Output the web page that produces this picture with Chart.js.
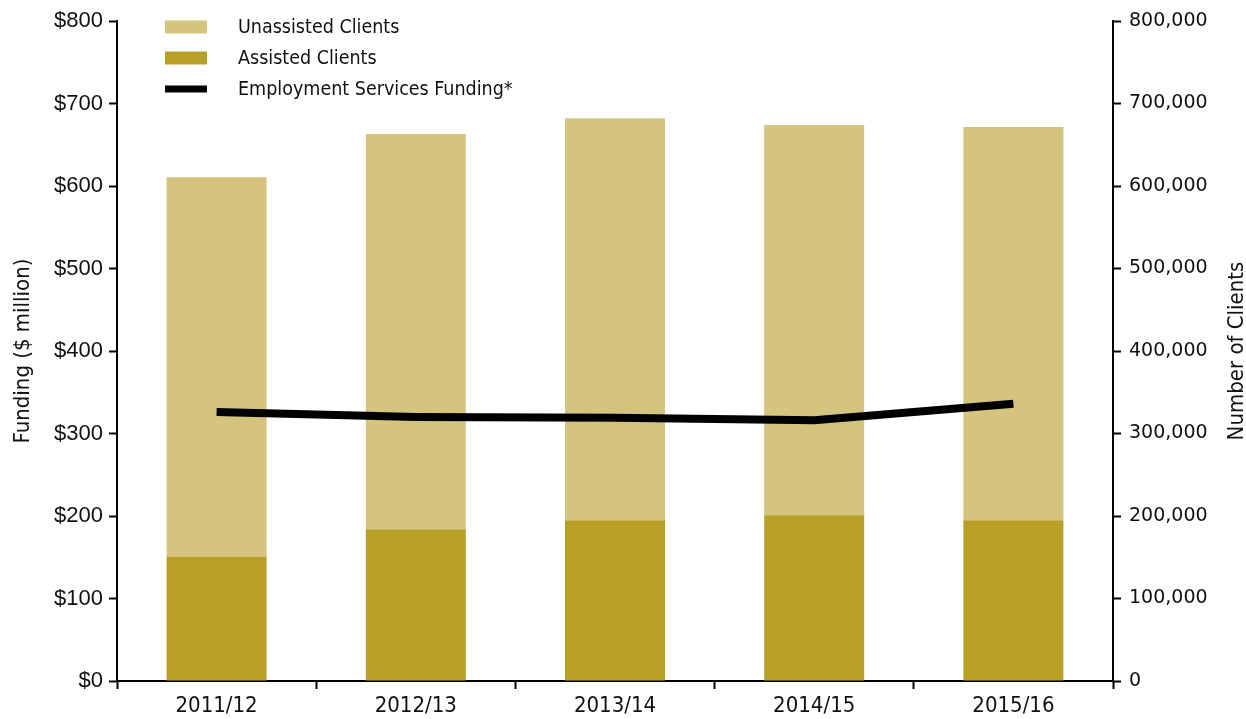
<!DOCTYPE html>
<html>
<head>
<meta charset="utf-8">
<script src="https://cdn.jsdelivr.net/npm/chart.js"></script>
<style>
  html, body { margin: 0; padding: 0; background: #fff; }
  #wrap { width: 1246px; height: 719px; }
</style>
</head>
<body>
<div id="wrap"><canvas id="chart" width="1246" height="719"></canvas></div>
<script>
// Data
const years = ['2011/12', '2012/13', '2013/14', '2014/15', '2015/16'];
const assistedClients = [151000, 184000, 195000, 201000, 195000];
const unassistedClients = [459500, 479000, 487000, 473000, 476500];
const fundingMillions = [326, 320, 319, 316, 336];

const lightGold = '#D4C47D';
const darkGold = '#B79F28';
const narrowFont = '"Liberation Sans Narrow", "DejaVu Sans Condensed", sans-serif';

// Legend drawn inside the plot, top-left, stacked vertically
const insideLegend = {
  id: 'insideLegend',
  afterDraw(chart) {
    const ctx = chart.ctx;
    const ds = chart.data.datasets;
    const order = [1, 0, 2]; // Unassisted, Assisted, Funding
    ctx.save();
    ctx.font = '19.5px ' + narrowFont;
    ctx.textBaseline = 'middle';
    order.forEach((idx, row) => {
      const y = 27 + row * 31;
      const d = ds[idx];
      if (d.type === 'line') {
        ctx.fillStyle = d.borderColor;
        ctx.fillRect(165, y - 3.5, 42, 7);
      } else {
        ctx.fillStyle = d.backgroundColor;
        ctx.fillRect(165, y - 6.5, 42, 13);
      }
      ctx.fillStyle = '#111';
      ctx.fillText(d.label, 238, y + 1);
    });
    ctx.restore();
  }
};

// Right axis title reads bottom-to-top in the reference
const rightTitle = {
  id: 'rightTitle',
  afterDraw(chart) {
    const ctx = chart.ctx;
    const area = chart.chartArea;
    ctx.save();
    ctx.translate(1237, (area.top + area.bottom) / 2);
    ctx.rotate(-Math.PI / 2);
    ctx.font = '22px ' + narrowFont;
    ctx.fillStyle = '#111';
    ctx.textAlign = 'center';
    ctx.textBaseline = 'middle';
    ctx.fillText('Number of Clients', 0, 0);
    ctx.restore();
  }
};

new Chart(document.getElementById('chart'), {
  data: {
    labels: years,
    datasets: [
      {
        type: 'bar',
        label: 'Assisted Clients',
        data: assistedClients,
        backgroundColor: darkGold,
        yAxisID: 'y1',
        stack: 'clients',
        order: 2
      },
      {
        type: 'bar',
        label: 'Unassisted Clients',
        data: unassistedClients,
        backgroundColor: lightGold,
        yAxisID: 'y1',
        stack: 'clients',
        order: 2
      },
      {
        type: 'line',
        label: 'Employment Services Funding*',
        data: fundingMillions,
        borderColor: '#000',
        borderWidth: 8,
        pointRadius: 0,
        tension: 0,
        yAxisID: 'y',
        order: 1
      }
    ]
  },
  options: {
    responsive: false,
    animation: false,
    layout: { padding: { top: 21, left: 0, right: 0, bottom: 0 } },
    datasets: {
      bar: { categoryPercentage: 0.502, barPercentage: 1 }
    },
    plugins: {
      legend: { display: false },
      tooltip: { enabled: false }
    },
    scales: {
      x: {
        stacked: true,
        offset: true,
        grid: {
          offset: true,
          drawOnChartArea: false,
          drawTicks: true,
          tickLength: 8,
          tickWidth: 2,
          tickColor: '#000'
        },
        border: { display: true, color: '#000', width: 2 },
        ticks: {
          color: '#111',
          padding: 4,
          font: { family: narrowFont, size: 22 }
        },
        afterFit(scale) { scale.height = 38; }
      },
      y: {
        position: 'left',
        min: 0,
        max: 800,
        ticks: {
          stepSize: 100,
          color: '#111',
          padding: 6,
          font: { family: '"Liberation Sans", Arial, sans-serif', size: 22 },
          callback: v => '$' + v
        },
        grid: {
          drawOnChartArea: false,
          drawTicks: true,
          tickLength: 8,
          tickWidth: 2,
          tickColor: '#000'
        },
        border: { display: true, color: '#000', width: 2 },
        title: {
          display: true,
          text: 'Funding ($ million)',
          color: '#111',
          padding: { top: 10, bottom: 0 },
          font: { family: narrowFont, size: 22 }
        },
        afterFit(scale) { scale.width = 117; }
      },
      y1: {
        position: 'right',
        stacked: true,
        min: 0,
        max: 800000,
        ticks: {
          stepSize: 100000,
          color: '#111',
          padding: 8,
          font: { family: '"DejaVu Sans", Verdana, sans-serif', size: 19 },
          callback: v => v.toLocaleString('en-US')
        },
        grid: {
          drawOnChartArea: false,
          drawTicks: true,
          tickLength: 8,
          tickWidth: 2,
          tickColor: '#000'
        },
        border: { display: true, color: '#000', width: 2 },
        afterFit(scale) { scale.width = 133; }
      }
    }
  },
  plugins: [insideLegend, rightTitle]
});
</script>
</body>
</html>
